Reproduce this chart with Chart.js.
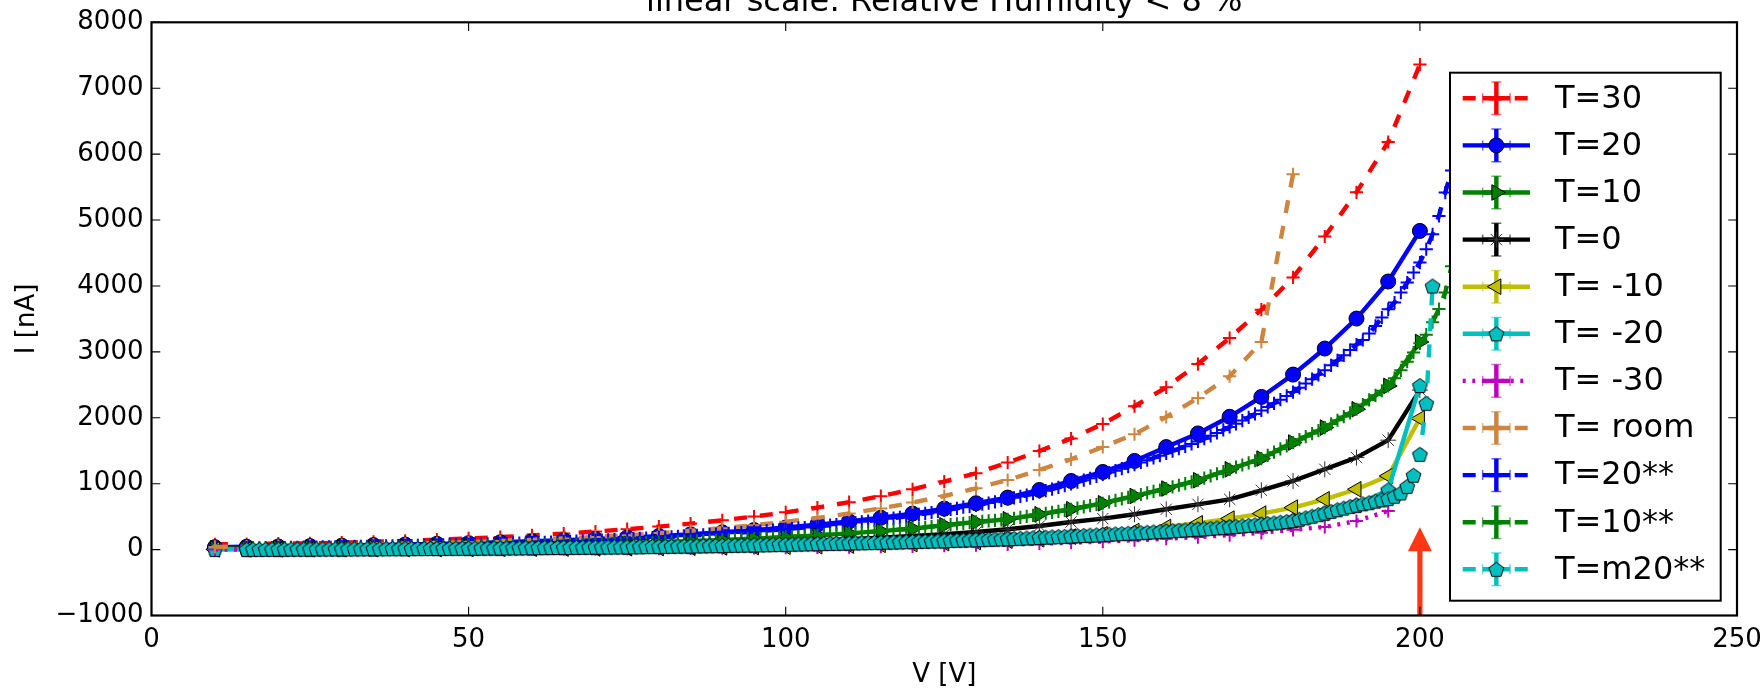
<!DOCTYPE html>
<html><head><meta charset="utf-8">
<script src="https://cdn.jsdelivr.net/npm/chart.js@4.4.0/dist/chart.umd.min.js"></script>
<style>html,body{margin:0;padding:0;background:#fff;}canvas{display:block;}</style>
</head><body>
<canvas id="c" width="1763" height="692"></canvas>
<script>
// ---------------- data ----------------
const TITLE = 'linear scale: Relative Humidity < 8 %';
const X_TICKS = [0, 50, 100, 150, 200, 250];
const Y_TICKS = [-1000, 0, 1000, 2000, 3000, 4000, 5000, 6000, 7000, 8000];
const LABELS = ['T=30','T=20','T=10','T=0','T= -10','T= -20','T= -30','T= room','T=20**','T=10**','T=m20**'];

const V5 = [10,15,20,25,30,35,40,45,50,55,60,65,70,75,80,85,90,95,100,105,110,115,120,125,130,135,140,145,150,155,160,165,170,175,180,185,190,195,200];
const V1 = [15,16,17,18,19,20,21,22,23,24,25,26,27,28,29,30,31,32,33,34,35,36,37,38,39,40,41,42,43,44,45,46,47,48,49,50,51,52,53,54,55,56,57,58,59,60,61,62,63,64,65,66,67,68,69,70,71,72,73,74,75,76,77,78,79,80,81,82,83,84,85,86,87,88,89,90,91,92,93,94,95,96,97,98,99,100,101,102,103,104,105,106,107,108,109,110,111,112,113,114,115,116,117,118,119,120,121,122,123,124,125,126,127,128,129,130,131,132,133,134,135,136,137,138,139,140,141,142,143,144,145,146,147,148,149,150,151,152,153,154,155,156,157,158,159,160,161,162,163,164,165,166,167,168,169,170,171,172,173,174,175,176,177,178,179,180,181,182,183,184,185,186,187,188,189,190,191,192,193,194,195,196,197,198,199,200,201,202,203,204,205];

const T30   = [80,85,90,95,105,118,133,150,170,190,215,243,274,309,349,394,444,501,565,637,719,811,915,1032,1158,1320,1496,1684,1905,2175,2462,2815,3210,3640,4130,4750,5420,6184,7360];
const T20   = [37,42,47,53,60,68,77,87,98,111,126,142,161,182,205,232,262,296,335,378,428,483,546,622,703,789,904,1041,1178,1345,1555,1762,2015,2316,2655,3050,3505,4067,4835];
const T10   = [18,20,23,27,30,34,39,45,51,58,66,76,86,98,112,128,146,166,189,216,246,280,319,369,419,460,536,612,703,813,926,1052,1218,1381,1624,1851,2129,2483,3150];
const T0    = [11,13,15,17,19,22,25,28,32,37,42,48,55,63,72,82,94,107,122,139,159,181,206,232,267,308,358,419,470,536,612,687,763,900,1041,1218,1396,1660,2420];
const TM10  = [3,3,4,5,6,7,8,9,10,12,14,16,18,21,24,28,33,38,45,52,61,72,84,98,115,135,156,197,232,282,343,399,470,546,637,763,915,1117,1990];
const TM20  = [3,3,6,8,10,12,15,17,21,24,28,33,37,43,48,56,62,71,80,90,100,110,122,135,150,166,185,205,228,253,280,310,345,385,440,555,675,906,2490];
const TM30  = [2,2,3,3,4,4,5,6,7,8,9,10,12,14,16,18,21,24,28,32,37,43,50,58,67,78,90,105,122,142,165,190,220,255,300,343,434,586];
const TROOM = [40,46,52,60,68,77,88,100,114,130,148,169,192,219,250,285,325,370,422,481,548,625,713,813,930,1056,1208,1370,1557,1750,2012,2300,2630,3150,5695];

const T20SS = [25,26,27,28,29,30,
 31,33,34,36,37,39,40,42,43,45,
 46,48,49,51,52,54,55,57,58,60,
 62,64,66,68,70,72,74,76,78,80,
 82,84,87,89,92,94,97,99,102,105,
 108,111,114,117,121,124,128,132,136,140,
 144,148,152,157,161,166,171,175,180,185,
 190,195,201,206,212,217,223,228,234,240,
 246,253,259,266,273,280,287,295,302,310,
 318,326,335,343,352,361,370,380,390,400,
 410,421,432,443,454,466,478,491,505,520,
 534,548,563,578,594,610,626,643,656,670,
 688,706,725,745,765,785,806,826,848,870,
 894,918,944,970,997,1025,1053,1082,1111,1140,
 1169,1198,1228,1258,1290,1323,1356,1390,1425,1460,
 1495,1530,1566,1603,1640,1683,1726,1770,1815,1860,
 1908,1957,2007,2058,2110,2164,2219,2275,2332,2390,
 2454,2519,2585,2652,2720,2795,2870,2948,3028,3110,
 3180,3280,3393,3520,3646,3748,3900,4052,4203,4355,4557,4784,5062,5417,5750];

const T10SS = [18,19,20,21,22,23,
 23,24,25,26,26,27,28,28,29,30,
 30,31,32,33,34,34,35,36,37,38,
 39,40,41,42,43,44,46,47,49,51,
 52,54,55,57,58,60,61,63,64,66,
 68,70,72,74,76,78,80,82,84,86,
 88,91,93,96,98,101,104,106,109,112,
 115,118,121,125,128,132,135,139,142,146,
 150,154,158,162,166,170,174,179,184,189,
 194,200,205,211,216,222,228,234,240,246,
 253,259,266,273,280,287,295,303,311,319,
 329,339,349,359,369,379,389,399,409,419,
 427,435,443,451,460,475,490,505,520,536,
 551,566,581,596,612,630,648,666,684,703,
 725,747,769,791,813,836,859,882,904,926,
 951,976,1001,1026,1052,1085,1118,1151,1184,1218,
 1250,1283,1315,1348,1381,1430,1478,1527,1575,1624,
 1669,1715,1760,1806,1851,1907,1962,2018,2073,2129,
 2200,2270,2340,2410,2483,2600,2720,2850,2990,3130,3260,3450,3650,3900,4300];

const TM20SS = [3,4,4,5,5,6,
 6,7,7,7,8,8,9,9,9,10,
 10,11,11,12,12,13,13,14,14,15,
 15,16,16,17,17,18,19,19,20,21,
 21,22,23,23,24,25,26,26,27,28,
 29,30,31,32,33,33,34,35,36,37,
 38,39,40,41,42,43,44,45,47,48,
 49,50,52,53,54,56,57,59,60,62,
 64,65,67,69,71,72,74,76,78,80,
 82,84,86,88,90,92,94,96,98,100,
 102,104,106,108,110,113,115,117,120,122,
 125,127,130,132,135,138,141,144,147,150,
 153,156,159,162,166,169,172,176,180,185,
 189,193,197,201,205,210,214,219,223,228,
 233,238,243,248,253,258,263,268,274,280,
 286,292,298,304,310,316,322,329,337,345,
 352,360,368,376,385,395,405,416,428,440,
 460,483,506,530,555,580,605,630,655,675,
 695,712,735,755,775,810,860,960,1128,1446,2220,4000];

const ARROW_V = 200, ARROW_TIP = 340, ARROW_BASE = -1000;

// ---------------- styles ----------------
const COL = {r:'#FF0000', b:'#0000FF', g:'#008000', k:'#000000', y:'#BFBF00', c:'#00BFBF', m:'#BF00BF', peru:'#CD853F'};
const FONT = '"DejaVu Sans", "Liberation Sans", sans-serif';
const DASH = [13, 13], DOT = [3, 6.6];

function pentagonImg(fill) {
  const s = 19, cv = document.createElement('canvas'); cv.width = cv.height = s;
  const g = cv.getContext('2d'); const R = 7.8;
  g.beginPath();
  for (let k = 0; k < 5; k++) {
    const a = -Math.PI / 2 + k * 2 * Math.PI / 5;
    const px = s / 2 + R * Math.cos(a), py = s / 2 + 0.8 + R * Math.sin(a);
    if (k) g.lineTo(px, py); else g.moveTo(px, py);
  }
  g.closePath(); g.fillStyle = fill; g.fill(); g.lineWidth = 1; g.strokeStyle = '#000'; g.stroke();
  return cv;
}
const PENT = pentagonImg(COL.c);

const SERIES = [
  {xs:V5, ys:T30, color:COL.r, dash:DASH, ps:'cross', pr:6.6, pbw:2, edge:COL.r, fill:COL.r},
  {xs:V5, ys:T20, color:COL.b, dash:[], ps:'circle', pr:7.5, pbw:1, edge:'#000', fill:COL.b},
  {xs:V5, ys:T10, color:COL.g, dash:[], ps:'triangle', rot:90, pr:9, pbw:1, edge:'#000', fill:COL.g},
  {xs:V5, ys:T0, color:COL.k, dash:[], ps:'star', pr:8, pbw:1, edge:'#333', fill:COL.k},
  {xs:V5, ys:TM10, color:COL.y, dash:[], ps:'triangle', rot:-90, pr:9, pbw:1, edge:'#000', fill:COL.y},
  {xs:V5, ys:TM20, color:COL.c, dash:[], ps:PENT, pr:8, pbw:1, edge:'#000', fill:COL.c},
  {xs:V5, ys:TM30, color:COL.m, dash:DOT, ps:'cross', pr:6.6, pbw:2, edge:COL.m, fill:COL.m},
  {xs:V5, ys:TROOM, color:COL.peru, dash:DASH, ps:'cross', pr:6.6, pbw:2, edge:COL.peru, fill:COL.peru},
  {xs:V1, ys:T20SS, color:COL.b, dash:DASH, ps:'cross', pr:6.6, pbw:2, edge:COL.b, fill:COL.b},
  {xs:V1, ys:T10SS, color:COL.g, dash:DASH, ps:'cross', pr:6.6, pbw:2, edge:COL.g, fill:COL.g},
  {xs:V1, ys:TM20SS, color:COL.c, dash:DASH, ps:PENT, pr:8, pbw:1, edge:'#000', fill:COL.c}
];

const datasets = SERIES.map((s, i) => ({
  label: LABELS[i],
  data: s.ys.map((v, j) => ({x: s.xs[j], y: v})),
  borderColor: s.color, backgroundColor: s.fill,
  borderWidth: 4.4, borderDash: s.dash, borderCapStyle: 'butt',
  pointStyle: s.ps, pointRadius: s.pr, pointRotation: s.rot || 0,
  pointBorderWidth: s.pbw, pointBorderColor: s.edge, pointBackgroundColor: s.fill,
  tension: 0, fill: false, order: SERIES.length - i
}));

// ---------------- drawing helpers ----------------
function drawMark(ctx, s, x, y) {
  ctx.save();
  ctx.lineWidth = s.pbw; ctx.strokeStyle = s.edge; ctx.fillStyle = s.fill; ctx.setLineDash([]);
  const r = s.pr;
  if (s.ps instanceof HTMLCanvasElement) {
    ctx.drawImage(s.ps, x - s.ps.width / 2, y - s.ps.height / 2);
  } else if (s.ps === 'circle') {
    ctx.beginPath(); ctx.arc(x, y, r, 0, 2 * Math.PI); ctx.fill(); ctx.stroke();
  } else if (s.ps === 'triangle') {
    let rad = (s.rot || 0) * Math.PI / 180;
    ctx.beginPath();
    for (let k = 0; k < 3; k++) {
      const px = x + Math.sin(rad) * r, py = y - Math.cos(rad) * r;
      if (k) ctx.lineTo(px, py); else ctx.moveTo(px, py);
      rad += 2 * Math.PI / 3;
    }
    ctx.closePath(); ctx.fill(); ctx.stroke();
  } else if (s.ps === 'cross') {
    ctx.beginPath(); ctx.moveTo(x - r, y); ctx.lineTo(x + r, y); ctx.moveTo(x, y - r); ctx.lineTo(x, y + r); ctx.stroke();
  } else if (s.ps === 'star') {
    ctx.beginPath();
    for (let k = 0; k < 4; k++) {
      const a = k * Math.PI / 4;
      ctx.moveTo(x - Math.cos(a) * r, y - Math.sin(a) * r); ctx.lineTo(x + Math.cos(a) * r, y + Math.sin(a) * r);
    }
    ctx.stroke();
  }
  ctx.restore();
}

const decor = {
  id: 'decor',
  afterDatasetsDraw(chart) {
    const {ctx, chartArea: a, scales: {x, y}} = chart;
    ctx.save();
    // arrow
    const ax = x.getPixelForValue(ARROW_V), tip = y.getPixelForValue(ARROW_TIP), base = y.getPixelForValue(ARROW_BASE);
    const hl = 24, hw = 12, sw = 2.6;
    ctx.fillStyle = 'rgb(255,55,20)';
    ctx.beginPath();
    ctx.moveTo(ax - sw, base); ctx.lineTo(ax - sw, tip + hl); ctx.lineTo(ax - hw, tip + hl); ctx.lineTo(ax, tip);
    ctx.lineTo(ax + hw, tip + hl); ctx.lineTo(ax + sw, tip + hl); ctx.lineTo(ax + sw, base); ctx.closePath(); ctx.fill();

    // legend
    const lx = a.right - 16.3 - 270.7, ly = a.top + 50.4, lw = 270.7, lh = 528;
    ctx.fillStyle = '#fff'; ctx.fillRect(lx, ly, lw, lh);
    ctx.lineWidth = 2; ctx.strokeStyle = '#000'; ctx.strokeRect(lx, ly, lw, lh);
    ctx.font = '32px ' + FONT; ctx.textAlign = 'left'; ctx.textBaseline = 'middle';
    SERIES.forEach((s, i) => {
      const cy = ly + 25.6 + i * 47.1, x0 = lx + 12.7, x1 = lx + 80, cx = (x0 + x1) / 2;
      ctx.strokeStyle = s.color; ctx.lineWidth = 4.4; ctx.lineCap = 'butt';
      ctx.setLineDash(s.dash); ctx.beginPath(); ctx.moveTo(x0, cy); ctx.lineTo(x1, cy); ctx.stroke();
      ctx.setLineDash([]);
      ctx.beginPath(); ctx.moveTo(cx, cy - 16.3); ctx.lineTo(cx, cy + 16.3); ctx.moveTo(cx - 13.7, cy); ctx.lineTo(cx + 13.7, cy); ctx.stroke();
      ctx.lineWidth = 1.5; ctx.globalAlpha = 0.6;
      ctx.beginPath();
      ctx.moveTo(cx - 5, cy - 16.3); ctx.lineTo(cx + 5, cy - 16.3); ctx.moveTo(cx - 5, cy + 16.3); ctx.lineTo(cx + 5, cy + 16.3);
      ctx.moveTo(cx - 13.7, cy - 5); ctx.lineTo(cx - 13.7, cy + 5); ctx.moveTo(cx + 13.7, cy - 5); ctx.lineTo(cx + 13.7, cy + 5);
      ctx.stroke(); ctx.globalAlpha = 1;
      drawMark(ctx, s, cx, cy);
      ctx.fillStyle = '#000'; ctx.fillText(LABELS[i], lx + 105, cy + 1);
    });

    // ticks (inside, all four sides)
    ctx.strokeStyle = '#000'; ctx.lineWidth = 1.1; ctx.beginPath();
    X_TICKS.forEach(v => { const p = x.getPixelForValue(v); ctx.moveTo(p, a.bottom); ctx.lineTo(p, a.bottom - 8.8); ctx.moveTo(p, a.top); ctx.lineTo(p, a.top + 8.8); });
    Y_TICKS.forEach(v => { const p = y.getPixelForValue(v); ctx.moveTo(a.left, p); ctx.lineTo(a.left + 8.8, p); ctx.moveTo(a.right, p); ctx.lineTo(a.right - 8.8, p); });
    ctx.stroke();
    // frame
    ctx.lineWidth = 2.2; ctx.strokeRect(a.left, a.top, a.right - a.left, a.bottom - a.top);
    // title
    ctx.fillStyle = '#000'; ctx.font = '32px ' + FONT; ctx.textAlign = 'center'; ctx.textBaseline = 'alphabetic';
    ctx.fillText(TITLE, (a.left + a.right) / 2, 11);
    ctx.restore();
  }
};

Chart.defaults.font.family = FONT;
Chart.defaults.color = '#000';
const fmt = v => (v < 0 ? '\u2212' + Math.abs(v) : String(v));

new Chart(document.getElementById('c'), {
  type: 'line',
  data: {datasets},
  options: {
    responsive: false, animation: false, devicePixelRatio: 1, events: [],
    layout: {padding: {top: 22.3, right: 26, left: 0, bottom: 0}},
    plugins: {legend: {display: false}, title: {display: false}, tooltip: {enabled: false}},
    scales: {
      x: {
        type: 'linear', min: 0, max: 250,
        afterBuildTicks: s => { s.ticks = X_TICKS.map(v => ({value: v})); },
        ticks: {font: {size: 26}, padding: 9, maxRotation: 0, callback: fmt},
        grid: {display: false, drawTicks: false}, border: {display: false},
        title: {display: true, text: 'V [V]', font: {size: 26}, padding: {top: 0, bottom: 1}},
        afterFit: s => { s.height = 76.5; s.paddingLeft = 0; s.paddingRight = 0; }
      },
      y: {
        type: 'linear', min: -1000, max: 8000,
        afterBuildTicks: s => { s.ticks = Y_TICKS.map(v => ({value: v})); },
        ticks: {font: {size: 26}, padding: 8, callback: fmt},
        grid: {display: false, drawTicks: false}, border: {display: false},
        title: {display: true, text: 'I [nA]', font: {size: 26}, padding: {top: 12, bottom: 0}},
        afterFit: s => { s.width = 151.5; s.paddingTop = 0; s.paddingBottom = 0; }
      }
    }
  },
  plugins: [decor]
});
</script>
</body></html>
